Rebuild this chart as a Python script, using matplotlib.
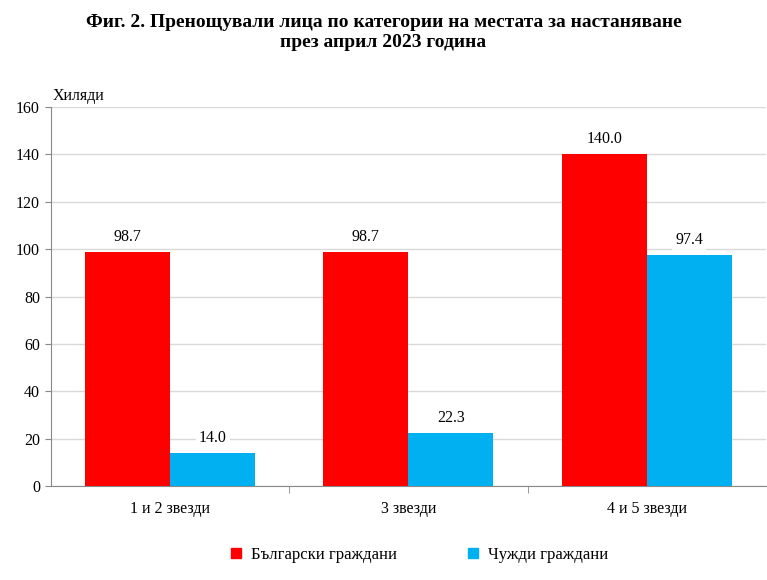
import numpy as np
import matplotlib.pyplot as plt

categories = ['1 и 2 звезди', '3 звезди', '4 и 5 звезди']
bulgarian = [98.7, 98.7, 140.0]
foreign = [14.0, 22.3, 97.4]
series_names = ['Български граждани', 'Чужди граждани']

plt.rcParams['font.family'] = ['Liberation Serif', 'DejaVu Serif']

fig = plt.figure(figsize=(7.67, 5.8), dpi=100, facecolor='white')
ax = fig.add_axes([0.0665, 0.162, 0.932, 0.6535])

x = np.arange(len(categories))
w = 0.357
red = '#FF0000'
blue = '#00B0F0'
b1 = ax.bar(x - w / 2, bulgarian, w, color=red, zorder=3)
b2 = ax.bar(x + w / 2, foreign, w, color=blue, zorder=3)

for bars, vals in ((b1, bulgarian), (b2, foreign)):
    for b, v in zip(bars, vals):
        ax.text(b.get_x() + b.get_width() / 2, v + 3, f'{v:.1f}', ha='center', va='bottom',
                fontsize=11.5, zorder=4,
                bbox=dict(boxstyle='square,pad=0.2', facecolor='white', edgecolor='none'))

ax.set_xlim(-0.5, 2.5)
ax.set_ylim(0, 160)
ax.set_yticks(range(0, 161, 20))
ax.yaxis.grid(True, color='#d9d9d9', linewidth=1, zorder=0)
ax.set_axisbelow(True)

ax.set_xticks(x)
ax.set_xticklabels(categories, fontsize=11.5)
ax.tick_params(axis='x', length=0, pad=11)
ax.set_xticks([0.5, 1.5], minor=True)
ax.tick_params(axis='x', which='minor', length=5, color='#888888')
ax.tick_params(axis='y', labelsize=11.5, length=4, color='#888888', pad=4)

for s in ['top', 'right']:
    ax.spines[s].set_visible(False)
ax.spines['left'].set_color('#888888')
ax.spines['bottom'].set_color('#888888')

fig.text(0.068, 0.82, 'Хиляди', fontsize=11.5, ha='left', va='bottom')

fig.text(0.5, 0.944, 'Фиг. 2. Пренощували лица по категории на местата за настаняване\nпрез април 2023 година',
         ha='center', va='center', fontsize=14, fontweight='bold', linespacing=1.3)

handles = [plt.Rectangle((0, 0), 1, 1, color=red), plt.Rectangle((0, 0), 1, 1, color=blue)]
fig.legend(handles, series_names, loc='center', bbox_to_anchor=(0.547, 0.043), ncol=2, frameon=False,
           fontsize=12, handlelength=0.6, handleheight=0.6, columnspacing=4.3, handletextpad=0.6)

fig.savefig('out.png', dpi=100, facecolor='white')
